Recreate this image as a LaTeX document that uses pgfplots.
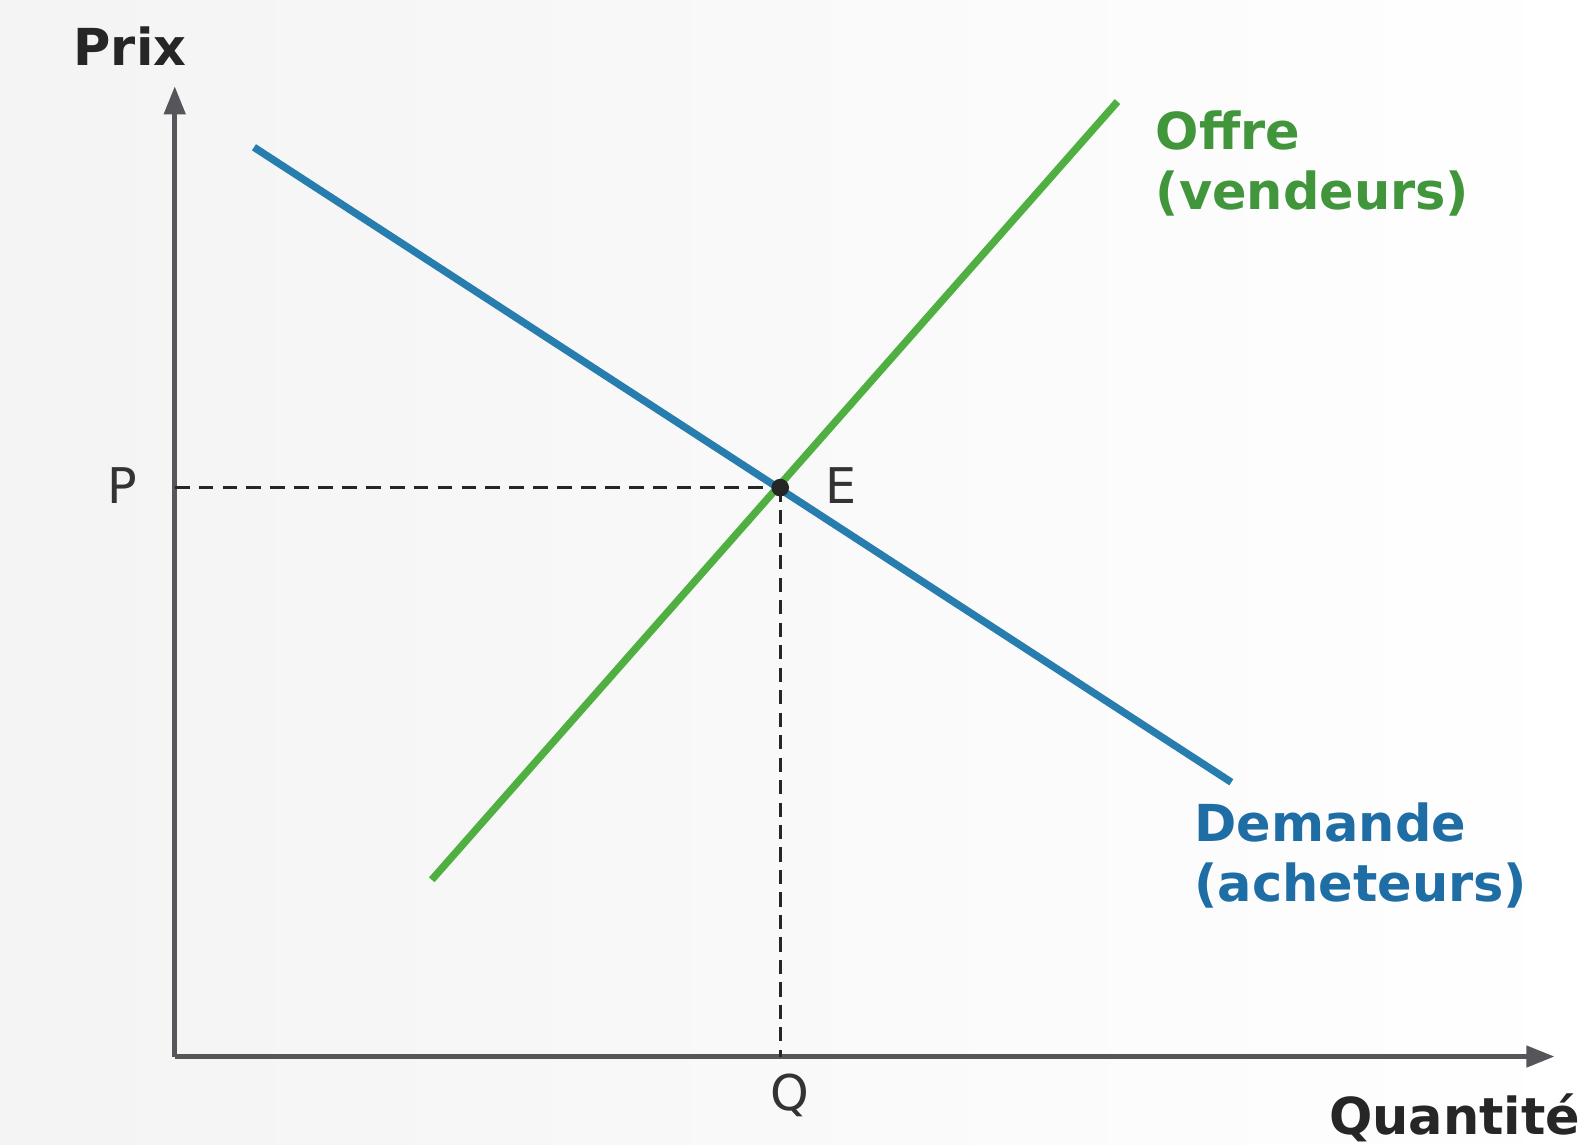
\documentclass[border=0pt]{standalone}
\usepackage{pgfplots}
\pgfplotsset{compat=1.18}
\usepackage{fontspec}
\setmainfont{DejaVu Sans}
\usetikzlibrary{arrows.meta,backgrounds}
\definecolor{dblue}{RGB}{40,125,175}
\definecolor{tblue}{RGB}{30,110,165}
\definecolor{sgreen}{RGB}{80,175,65}
\definecolor{tgreen}{RGB}{65,150,60}
\definecolor{axgray}{RGB}{85,85,90}
\begin{document}
\begin{tikzpicture}
\begin{axis}[
 x=1.016cm, y=1.016cm,
 xmin=0, xmax=13.58, ymin=0, ymax=9.55,
 axis lines=left,
 axis line style={axgray, line width=1.3pt, -{Triangle[length=2.8mm,width=2.1mm]}},
 xtick=\empty, ytick=\empty,
 clip=false,
]
\addplot[black!85, line width=0.75pt, dash pattern=on 4.2pt off 2.6pt] coordinates {(0,5.6) (5.96,5.6)};
\addplot[black!85, line width=0.75pt, dash pattern=on 4pt off 2.4pt] coordinates {(5.96,5.6) (5.96,0)};
\addplot[dblue, line width=2.1pt] coordinates {(0.78,8.95) (10.40,2.70)};
\addplot[sgreen, line width=2.1pt] coordinates {(2.53,1.74) (9.28,9.40)};
\addplot[only marks, mark=*, mark size=2.3pt, black!85] coordinates {(5.96,5.6)};
\node[font=\bfseries\fontsize{14.5}{17}\selectfont, text=black!85, inner sep=0pt] at (axis cs:-0.44,9.95) {Prix};
\node[font=\bfseries\fontsize{14.5}{17}\selectfont, text=black!85, inner sep=0pt] at (axis cs:12.60,-0.60) {Quantité};
\node[font=\fontsize{14}{17}\selectfont, text=black!80, inner sep=0pt] at (axis cs:-0.52,5.62) {P};
\node[font=\fontsize{14}{17}\selectfont, text=black!80, inner sep=0pt] at (axis cs:6.05,-0.38) {Q};
\node[font=\fontsize{14}{17}\selectfont, text=black!80, inner sep=0pt] at (axis cs:6.56,5.62) {E};
\node[font=\bfseries\fontsize{14.5}{17}\selectfont, text=tgreen, align=left, anchor=west, inner sep=0pt] at (axis cs:9.65,8.79) {Offre\\(vendeurs)};
\node[font=\bfseries\fontsize{14.5}{17}\selectfont, text=tblue, align=left, anchor=west, inner sep=0pt] at (axis cs:10.03,1.98) {Demande\\(acheteurs)};
\coordinate (bl) at (axis cs:-1.72,-0.87);
\coordinate (tr) at (axis cs:13.96,10.40);
\end{axis}
\begin{scope}[on background layer]
\shade[left color=gray!9, right color=white] (bl) rectangle (tr);
\end{scope}
\end{tikzpicture}
\end{document}
